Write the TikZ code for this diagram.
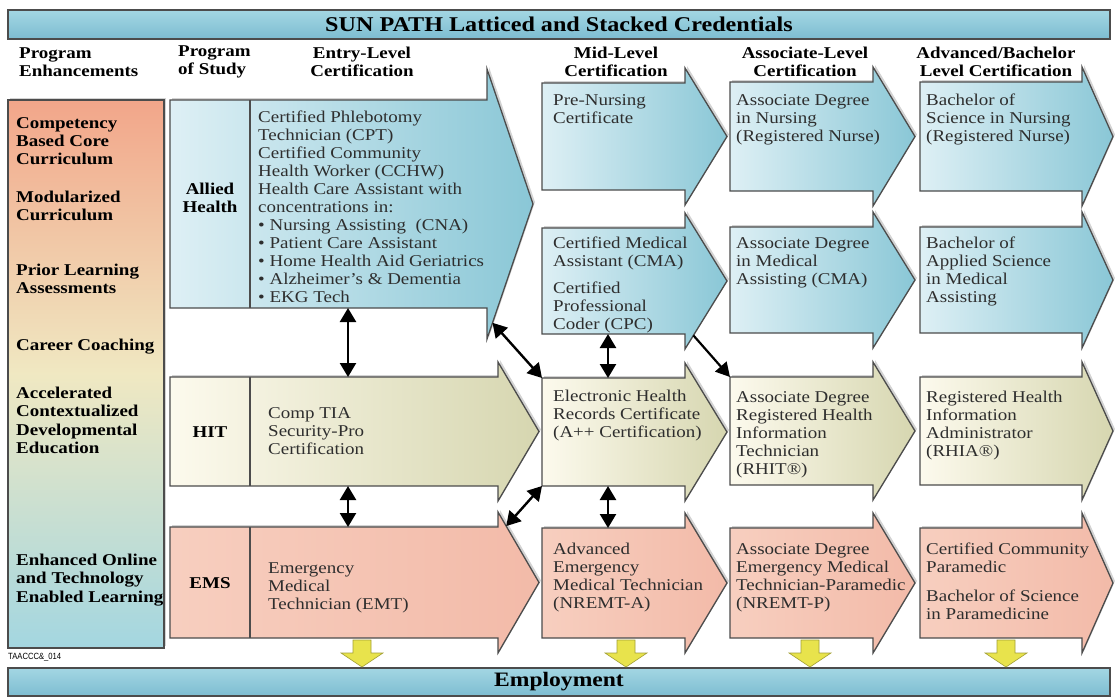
\documentclass[tikz,border=0pt]{standalone}
\usepackage{fontspec}
\setmainfont{Liberation Serif}[FakeStretch=1.15]
\newfontfamily\tagfont{Liberation Sans}[FakeStretch=0.85]
\usetikzlibrary{arrows.meta,calc,shadows}

\newlength{\du}
\setlength{\du}{1\unitlength}

\definecolor{dialinecolor}{rgb}{0.300000, 0.300000, 0.300000}
\definecolor{bluelight}{rgb}{0.870000, 0.940000, 0.960000}
\definecolor{bluedark}{rgb}{0.540000, 0.780000, 0.840000}
\definecolor{creamlight}{rgb}{0.990000, 0.980000, 0.930000}
\definecolor{creamdark}{rgb}{0.840000, 0.840000, 0.690000}
\definecolor{pinklight}{rgb}{0.970000, 0.810000, 0.750000}
\definecolor{pinkdark}{rgb}{0.950000, 0.730000, 0.660000}
\definecolor{enhtop}{rgb}{0.950000, 0.650000, 0.540000}
\definecolor{enhmid}{rgb}{0.940000, 0.910000, 0.760000}
\definecolor{enhbot}{rgb}{0.640000, 0.840000, 0.880000}
\definecolor{bartop}{rgb}{0.640000, 0.840000, 0.890000}
\definecolor{barbot}{rgb}{0.490000, 0.740000, 0.820000}
\definecolor{textcolor}{rgb}{0.180000, 0.180000, 0.180000}
\definecolor{yellowfill}{rgb}{0.910000, 0.890000, 0.300000}

\tikzset{
  body/.style={inner sep=0pt, outer sep=0pt, anchor=north west},
  edge/.style={draw=dialinecolor, line width=1.3\du},
  shade/.style={drop shadow={shadow xshift=2\du, shadow yshift=2\du, opacity=0.35}},
  allied/.style={edge, shade, left color=bluelight, right color=bluedark},
  hit/.style={edge, shade, left color=creamlight, right color=creamdark},
  ems/.style={edge, shade, left color=pinklight, right color=pinkdark},
  bar/.style={body, edge, top color=bartop, bottom color=barbot, minimum width=1102\du,
    font=\fontsize{21}{24}\selectfont\bfseries},
  txt/.style={inner sep=0pt, anchor=north west, align=left, text=textcolor,
    font=\fontsize{16.5}{18}\selectfont},
  bold/.style={inner sep=0pt, align=center, font=\fontsize{16.5}{18}\selectfont\bfseries},
  enh/.style={txt, text=black, font=\fontsize{16.5}{18.3}\selectfont\bfseries},
  both/.style={{Triangle[length=14pt,width=16pt]}-{Triangle[length=14pt,width=16pt]}, line width=2.4\du},
  one/.style={-{Triangle[length=14pt,width=15pt]}, line width=2.2\du},
  yel/.style={fill=yellowfill, draw=yellowfill!70!black, line width=0.6\du},
}

% name, x, y, width, height, head extend, tip depth, style
\newcommand{\chevron}[8]{%
  \node[body, minimum width=#4\du, minimum height=#5\du] (#1) at (#2\du,#3\du) {};
  \coordinate (#1-sht) at ($(#1.north east)+(0,-#6\du)$);
  \coordinate (#1-shb) at ($(#1.south east)+(0,#6\du)$);
  \coordinate (#1-tip) at ($(#1.east)+(#7\du,0)$);
  \path[#8] (#1.north west) -- (#1.north east) -- (#1-sht) -- (#1-tip) -- (#1-shb)
    -- (#1.south east) -- (#1.south west) -- cycle;
}
% node, x of the yellow arrow
\newcommand{\yarrow}[2]{%
  \coordinate (#1-y) at (#2\du,0 |- #1.south);
  \path[yel] (#1-y) ++(-9\du,2\du) -- ++(18\du,0) -- ++(0,13\du) -- ++(12\du,0)
    -- ++(-21\du,14\du) -- ++(-21\du,-14\du) -- ++(12\du,0) -- cycle;
}

\begin{document}
\begin{tikzpicture}
\pgftransformxscale{1.000000}
\pgftransformyscale{-1.000000}
\useasboundingbox (0\du,0\du) rectangle (1115\du,696\du);

\node[bar, minimum height=29\du] (title) at (8\du,10\du) {SUN PATH Latticed and Stacked Credentials};
\node[bar, minimum height=28\du, font=\fontsize{20.5}{24}\selectfont\bfseries] (employ) at (8\du,668\du) {Employment};

\node[bold, align=left, anchor=west] (hd-enh) at (19\du,62\du) {Program\\Enhancements};
\node[bold, align=left, anchor=west] (hd-pos) at (178\du,62\du) {Program\\of Study};
\node[bold] (hd-ent) at (362\du,62\du) {Entry-Level\\Certification};
\node[bold] (hd-mid) at (616\du,62\du) {Mid-Level\\Certification};
\node[bold] (hd-asc) at (805\du,62\du) {Associate-Level\\Certification};
\node[bold] (hd-adv) at (996\du,62\du) {Advanced/Bachelor\\Level Certification};

\node[body, edge, shade, top color=enhtop, bottom color=enhbot, middle color=enhmid,
  minimum width=156\du, minimum height=548\du] (enh) at (8\du,100\du) {};
\node[enh] (enh1) at (16\du,117\du) {Competency\\Based Core\\Curriculum};
\node[enh] (enh2) at (16\du,191\du) {Modularized\\Curriculum};
\node[enh] (enh3) at (16\du,264\du) {Prior Learning\\Assessments};
\node[enh] (enh4) at (16\du,339\du) {Career Coaching};
\node[enh] (enh5) at (16\du,387\du) {Accelerated\\Contextualized\\Developmental\\Education};
\node[enh] (enh6) at (16\du,554\du) {Enhanced Online\\and Technology\\Enabled Learning};
\node[anchor=west, inner sep=0pt, font=\tagfont\fontsize{9}{10}\selectfont] (tag) at (8\du,657\du) {TAACCC\&\_014};

\chevron{ent1}{170}{100}{317}{208}{31}{46}{allied}
\chevron{ent2}{170}{377}{328}{109}{15}{41}{hit}
\chevron{ent3}{170}{527}{328}{111}{15}{41}{ems}
\chevron{mid1}{542}{83}{143}{107}{15}{42}{allied}
\chevron{mid2}{542}{228}{143}{106}{15}{42}{allied}
\chevron{mid3}{542}{378}{143}{108}{15}{42}{hit}
\chevron{mid4}{542}{528}{143}{110}{15}{42}{ems}
\chevron{asc1}{730}{82}{143}{109}{15}{42}{allied}
\chevron{asc2}{730}{227}{143}{106}{15}{42}{allied}
\chevron{asc3}{730}{377}{143}{108}{15}{42}{hit}
\chevron{asc4}{730}{528}{143}{110}{15}{42}{ems}
\chevron{adv1}{920}{82}{162}{109}{15}{31}{allied}
\chevron{adv2}{920}{227}{162}{106}{15}{31}{allied}
\chevron{adv3}{920}{377}{162}{108}{15}{31}{hit}
\chevron{adv4}{920}{528}{162}{110}{15}{31}{ems}

\draw[edge] ($(ent1.north west)+(80\du,0)$) -- ($(ent1.south west)+(80\du,0)$);
\draw[edge] ($(ent2.north west)+(80\du,0)$) -- ($(ent2.south west)+(80\du,0)$);
\draw[edge] ($(ent3.north west)+(80\du,0)$) -- ($(ent3.south west)+(80\du,0)$);
\node[bold] (pos1) at (210\du,198\du) {Allied\\Health};
\node[bold] (pos2) at (210\du,432\du) {HIT};
\node[bold] (pos3) at (210\du,583\du) {EMS};

\node[txt] (ent1-txt) at (258\du,111\du) {Certified Phlebotomy\\Technician (CPT)\\Certified Community\\Health Worker (CCHW)\\Health Care Assistant with\\concentrations in:\\• Nursing Assisting\ \ (CNA)\\• Patient Care Assistant\\• Home Health Aid Geriatrics\\• Alzheimer’s \& Dementia\\• EKG Tech};
\node[txt] (ent2-txt) at (268\du,407\du) {Comp TIA\\Security-Pro\\Certification};
\node[txt] (ent3-txt) at (268\du,562\du) {Emergency\\Medical\\Technician (EMT)};

\node[txt] (mid1-txt) at (553\du,94\du) {Pre-Nursing\\Certificate};
\node[txt] (mid2-txt) at (553\du,237\du) {Certified Medical\\Assistant (CMA)\\[9\du]Certified\\Professional\\Coder (CPC)};
\node[txt] (mid3-txt) at (553\du,390\du) {Electronic Health\\Records Certificate\\(A++ Certification)};
\node[txt] (mid4-txt) at (553\du,543\du) {Advanced\\Emergency\\Medical Technician\\(NREMT-A)};

\node[txt] (asc1-txt) at (736\du,94\du) {Associate Degree\\in Nursing\\(Registered Nurse)};
\node[txt] (asc2-txt) at (736\du,237\du) {Associate Degree\\in Medical\\Assisting (CMA)};
\node[txt] (asc3-txt) at (736\du,391\du) {Associate Degree\\Registered Health\\Information\\Technician\\(RHIT®)};
\node[txt] (asc4-txt) at (736\du,543\du) {Associate Degree\\Emergency Medical\\Technician-Paramedic\\(NREMT-P)};

\node[txt] (adv1-txt) at (926\du,94\du) {Bachelor of\\Science in Nursing\\(Registered Nurse)};
\node[txt] (adv2-txt) at (926\du,237\du) {Bachelor of\\Applied Science\\in Medical\\Assisting};
\node[txt] (adv3-txt) at (926\du,391\du) {Registered Health\\Information\\Administrator\\(RHIA®)};
\node[txt] (adv4-txt) at (926\du,543\du) {Certified Community\\Paramedic\\[11\du]Bachelor of Science\\in Paramedicine};

\coordinate (colA) at (348\du,0\du);
\coordinate (colB) at (608\du,0\du);
\draw[both] (ent1.south -| colA) -- (ent2.north -| colA);
\draw[both] (ent2.south -| colA) -- (ent3.north -| colA);
\draw[both] (mid2.south -| colB) -- (mid3.north -| colB);
\draw[both] (mid3.south -| colB) -- (mid4.north -| colB);
\draw[both] ($(ent1-tip)!0.88!(ent1-shb)$) -- (mid3.north west);
\draw[both] ($(ent3-sht)!0.2!(ent3-tip)$) -- (mid3.south west);
\draw[one] ($(mid2-tip)!0.8!(mid2-shb)$) -- (asc3.north west);

\yarrow{ent3}{362}
\yarrow{mid4}{626}
\yarrow{asc4}{810}
\yarrow{adv4}{1006}
\end{tikzpicture}
\end{document}
